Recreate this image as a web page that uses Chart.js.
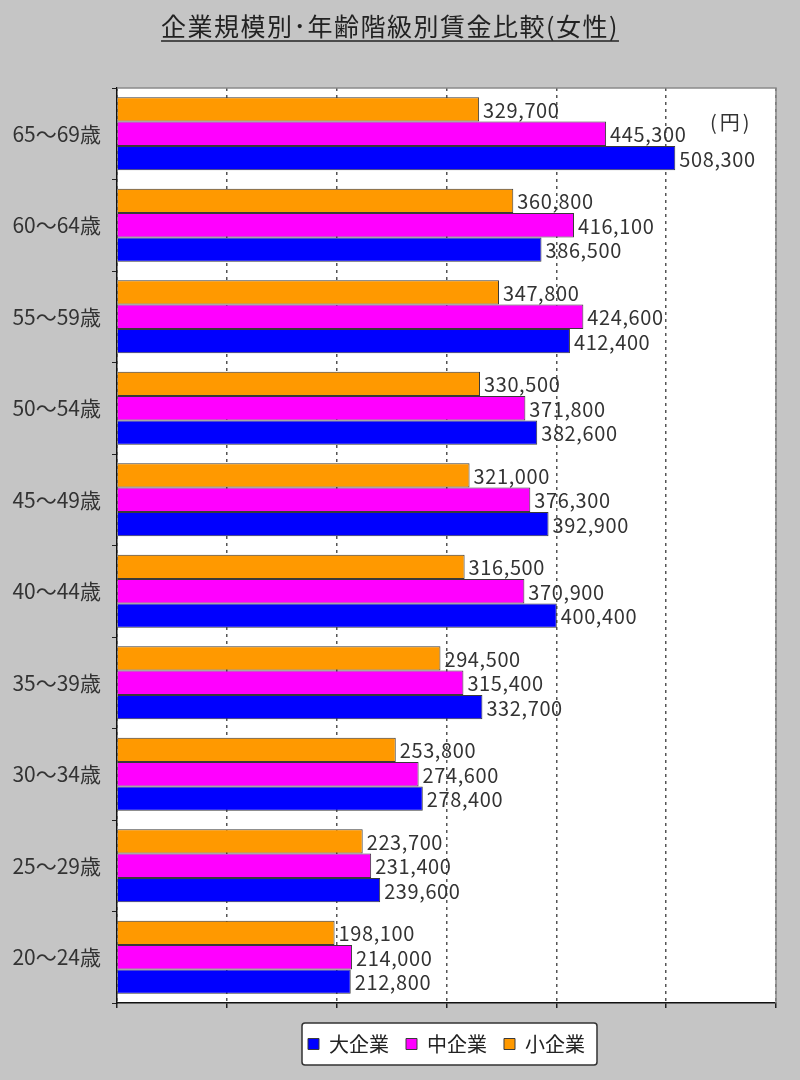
<!DOCTYPE html>
<html>
<head>
<meta charset="utf-8">
<script src="https://cdn.jsdelivr.net/npm/chart.js@4/dist/chart.umd.min.js"></script>
<style>
  html, body { margin: 0; padding: 0; background: #c5c5c5; }
  #wrap { width: 800px; height: 1080px; position: relative; }
</style>
</head>
<body>
<div id="wrap"><canvas id="wageChart"></canvas></div>
<script>
// 企業規模別・年齢階級別賃金 (女性), 単位: 円
var ageGroups = ['65～69歳', '60～64歳', '55～59歳', '50～54歳', '45～49歳',
                 '40～44歳', '35～39歳', '30～34歳', '25～29歳', '20～24歳'];
var largeCo  = [508300, 386500, 412400, 382600, 392900, 400400, 332700, 278400, 239600, 212800];
var mediumCo = [445300, 416100, 424600, 371800, 376300, 370900, 315400, 274600, 231400, 214000];
var smallCo  = [329700, 360800, 347800, 330500, 321000, 316500, 294500, 253800, 223700, 198100];
var xMax = 600000;
var xStep = 100000;

var titleText = '企業規模別･年齢階級別賃金比較(女性)';
var unitText = '(円)';
var jpFont = '"Noto Sans CJK JP", "Noto Sans", sans-serif';

// background, white plot area and legend frame
var framePlugin = {
    id: 'frame',
    beforeDraw: function(chart) {
        var ctx = chart.ctx, a = chart.chartArea;
        ctx.save();
        ctx.fillStyle = '#c5c5c5';
        ctx.fillRect(0, 0, chart.width, chart.height);
        ctx.fillStyle = '#ffffff';
        ctx.fillRect(a.left, a.top, a.right - a.left, a.bottom - a.top);

        var hb = chart.legend.legendHitBoxes;
        if (hb && hb.length) {
            var first = hb[0], last = hb[hb.length - 1];
            var cy = first.top + first.height / 2;
            var x0 = first.left - 6, x1 = last.left + last.width + 12;
            ctx.fillStyle = '#ffffff';
            ctx.strokeStyle = '#333333';
            ctx.lineWidth = 1.5;
            ctx.beginPath();
            ctx.roundRect(x0, cy - 21, x1 - x0, 42, 3);
            ctx.fill();
            ctx.stroke();
        }
        ctx.restore();
    },
    afterDatasetsDraw: function(chart) {
        var ctx = chart.ctx, a = chart.chartArea;
        ctx.save();
        // top / right border of plot
        ctx.strokeStyle = '#8a8a8a';
        ctx.lineWidth = 1.5;
        ctx.beginPath();
        ctx.moveTo(a.left, a.top);
        ctx.lineTo(a.right, a.top);
        ctx.lineTo(a.right, a.bottom);
        ctx.stroke();

        // value labels
        ctx.font = '20px ' + jpFont;
        ctx.letterSpacing = '0.6px';
        ctx.fillStyle = '#333333';
        ctx.textAlign = 'left';
        ctx.textBaseline = 'middle';
        chart.data.datasets.forEach(function(ds, i) {
            chart.getDatasetMeta(i).data.forEach(function(bar, j) {
                ctx.fillText(ds.data[j].toLocaleString('en-US'), bar.x + 4, bar.y + 1);
            });
        });

        // unit
        ctx.letterSpacing = '3px';
        ctx.fillText(unitText, a.right - 66, a.top + 34);

        // title with underline
        ctx.font = '25px ' + jpFont;
        ctx.letterSpacing = '1.5px';
        ctx.fillStyle = '#222222';
        ctx.textAlign = 'center';
        ctx.textBaseline = 'alphabetic';
        ctx.fillText(titleText, 390, 36);
        var w = ctx.measureText(titleText).width;
        ctx.strokeStyle = '#222222';
        ctx.lineWidth = 1.5;
        ctx.beginPath();
        ctx.moveTo(390 - w / 2, 41);
        ctx.lineTo(390 + w / 2, 41);
        ctx.stroke();
        ctx.restore();
    }
};

var ctxBar = document.getElementById('wageChart').getContext('2d');
var wageChart = new Chart(ctxBar, {
    type: 'bar',
    data: {
        labels: ageGroups,
        datasets: [
            {
                label: '小企業',
                data: smallCo,
                backgroundColor: '#ff9900',
                borderColor: '#3a3a3a',
                borderWidth: 1
            },
            {
                label: '中企業',
                data: mediumCo,
                backgroundColor: '#ff00ff',
                borderColor: '#3a3a3a',
                borderWidth: 1
            },
            {
                label: '大企業',
                data: largeCo,
                backgroundColor: '#0000ff',
                borderColor: '#3a3a3a',
                borderWidth: 1
            }
        ]
    },
    options: {
        indexAxis: 'y',
        responsive: true,
        maintainAspectRatio: false,
        animation: false,
        devicePixelRatio: 1,
        layout: {
            padding: { top: 88, left: 0, right: 24, bottom: 16 }
        },
        datasets: {
            bar: { categoryPercentage: 0.8, barPercentage: 1.0 }
        },
        scales: {
            x: {
                min: 0,
                max: xMax,
                ticks: { display: false, stepSize: xStep },
                grid: {
                    color: '#555555',
                    lineWidth: 1.5,
                    tickBorderDash: [],
                    tickColor: '#222222',
                    tickLength: 5
                },
                border: { color: '#111111', width: 1.5, dash: [3, 4] },
                afterFit: function(scale) { scale.height = 14; }
            },
            y: {
                ticks: {
                    color: '#333333',
                    padding: 11,
                    font: { size: 21, family: jpFont }
                },
                grid: {
                    drawOnChartArea: false,
                    tickColor: '#222222',
                    tickLength: 5
                },
                border: { color: '#111111', width: 1.5 },
                afterFit: function(scale) { scale.width = 117; }
            }
        },
        plugins: {
            title: { display: false },
            tooltip: { enabled: false },
            legend: {
                position: 'bottom',
                fullSize: false,
                reverse: true,
                labels: {
                    color: '#222222',
                    font: { size: 20, family: jpFont },
                    boxWidth: 11,
                    boxHeight: 11,
                    padding: 17
                }
            }
        }
    },
    plugins: [framePlugin]
});
</script>
</body>
</html>
